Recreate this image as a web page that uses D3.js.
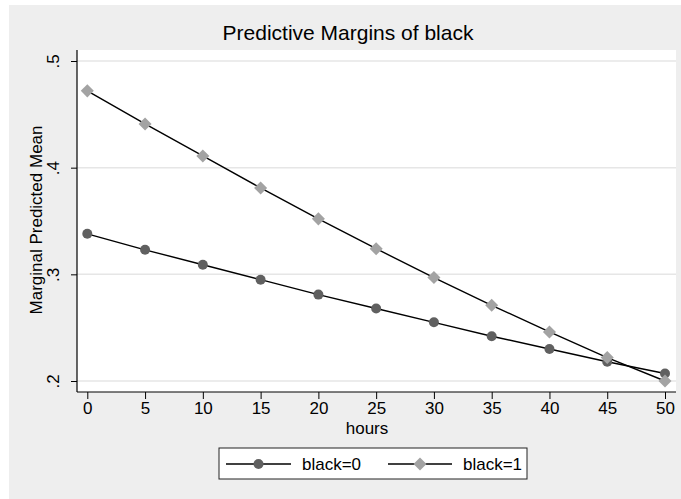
<!DOCTYPE html>
<html>
<head>
<meta charset="utf-8">
<script src="https://cdn.jsdelivr.net/npm/d3@7/dist/d3.min.js"></script>
<style>
  html, body { margin: 0; padding: 0; background: #ffffff; }
  svg { display: block; font-family: "Liberation Sans", Arial, sans-serif; }
</style>
</head>
<body>
<svg id="chart" width="681" height="499"></svg>
<script>
const hours = [0, 5, 10, 15, 20, 25, 30, 35, 40, 45, 50];
const black0 = [0.338, 0.323, 0.309, 0.295, 0.281, 0.268, 0.255, 0.242, 0.230, 0.218, 0.207];
const black1 = [0.472, 0.441, 0.411, 0.381, 0.352, 0.324, 0.297, 0.271, 0.246, 0.222, 0.200];
const yTicks = [0.2, 0.3, 0.4, 0.5];
const yTickLabels = [".2", ".3", ".4", ".5"];
const seriesNames = ["black=0", "black=1"];
const titleText = "Predictive Margins of black";
const xTitle = "hours";
const yTitle = "Marginal Predicted Mean";

const svg = d3.select("#chart");
const W = 681, H = 499;
const FS = 17;

// outer graph region
svg.append("rect").attr("x", 9).attr("y", 5).attr("width", W - 9).attr("height", H - 5)
  .attr("fill", "#eeeeee");

const plot = { left: 77, right: 676, top: 50, bottom: 392 };
svg.append("rect").attr("x", plot.left).attr("y", plot.top)
  .attr("width", plot.right - plot.left).attr("height", plot.bottom - plot.top)
  .attr("fill", "#ffffff");

const x = d3.scaleLinear().domain([0, 50]).range([87.3, 665]);
const y = d3.scaleLinear().domain([0.2, 0.5]).range([381, 61]);

// gridlines
svg.append("g").selectAll("line").data(yTicks).join("line")
  .attr("x1", plot.left).attr("x2", plot.right)
  .attr("y1", d => y(d)).attr("y2", d => y(d))
  .attr("stroke", "#e6e6e6").attr("stroke-width", 1.5);

// y axis
const yAxis = d3.axisLeft(y).tickValues(yTicks)
  .tickFormat((d, i) => yTickLabels[i]).tickSize(6).tickSizeOuter(0);
const gy = svg.append("g").attr("transform", `translate(${plot.left},0)`).call(yAxis);
gy.select(".domain").remove();
gy.selectAll(".tick line").attr("stroke", "#000").attr("stroke-width", 1);
gy.selectAll(".tick text")
  .attr("x", 0).attr("y", 0).attr("dy", 0)
  .attr("transform", "translate(-18,0) rotate(-90)")
  .attr("text-anchor", "middle")
  .attr("font-size", FS).attr("fill", "#000")
  .attr("font-family", "Liberation Sans, Arial, sans-serif");
svg.append("line").attr("x1", plot.left).attr("x2", plot.left)
  .attr("y1", plot.top).attr("y2", plot.bottom).attr("stroke", "#000").attr("stroke-width", 1.2);

// x axis
const xAxis = d3.axisBottom(x).tickValues(hours).tickFormat(d3.format("d"))
  .tickSize(7).tickSizeOuter(0);
const gx = svg.append("g").attr("transform", `translate(0,${plot.bottom})`).call(xAxis);
gx.select(".domain").remove();
gx.selectAll(".tick line").attr("stroke", "#000").attr("stroke-width", 1);
gx.selectAll(".tick text").attr("y", 22).attr("dy", 0)
  .attr("font-size", FS).attr("fill", "#000")
  .attr("font-family", "Liberation Sans, Arial, sans-serif");
svg.append("line").attr("x1", plot.left).attr("x2", plot.right)
  .attr("y1", plot.bottom).attr("y2", plot.bottom).attr("stroke", "#000").attr("stroke-width", 1.2);

// lines
const line = d3.line().x((d, i) => x(hours[i])).y(d => y(d));
[black0, black1].forEach(s => {
  svg.append("path").datum(s).attr("d", line)
    .attr("fill", "none").attr("stroke", "#000").attr("stroke-width", 1.4);
});

const circleColor = "#606060", diamondColor = "#a3a3a3";
const diamond = d3.symbol().type(d3.symbolSquare).size(85);

svg.append("g").selectAll("circle").data(black0).join("circle")
  .attr("cx", (d, i) => x(hours[i])).attr("cy", d => y(d)).attr("r", 5)
  .attr("fill", circleColor);
svg.append("g").selectAll("path").data(black1).join("path")
  .attr("d", diamond)
  .attr("transform", (d, i) => `translate(${x(hours[i])},${y(d)}) rotate(45)`)
  .attr("fill", diamondColor);

// titles
svg.append("text").attr("x", 348).attr("y", 40).attr("text-anchor", "middle")
  .attr("font-size", 21).attr("fill", "#000").text(titleText);
svg.append("text").attr("x", 367).attr("y", 434).attr("text-anchor", "middle")
  .attr("font-size", FS).attr("fill", "#000").text(xTitle);
svg.append("text").attr("transform", "translate(42,220) rotate(-90)").attr("text-anchor", "middle")
  .attr("font-size", FS).attr("fill", "#000").text(yTitle);

// legend
const lg = svg.append("g");
lg.append("rect").attr("x", 219).attr("y", 448).attr("width", 308).attr("height", 31)
  .attr("fill", "#fff").attr("stroke", "#222").attr("stroke-width", 1);
const legendItems = [
  { name: seriesNames[0], x0: 226, x1: 291, tx: 302, type: "circle" },
  { name: seriesNames[1], x0: 388, x1: 452, tx: 463, type: "diamond" }
];
const ly = 464;
legendItems.forEach(it => {
  lg.append("line").attr("x1", it.x0).attr("x2", it.x1).attr("y1", ly).attr("y2", ly)
    .attr("stroke", "#000").attr("stroke-width", 1.4);
  const cx = (it.x0 + it.x1) / 2;
  if (it.type === "circle") {
    lg.append("circle").attr("cx", cx).attr("cy", ly).attr("r", 5).attr("fill", circleColor);
  } else {
    lg.append("path").attr("d", diamond).attr("transform", `translate(${cx},${ly}) rotate(45)`)
      .attr("fill", diamondColor);
  }
  lg.append("text").attr("x", it.tx).attr("y", ly + 6).attr("font-size", FS)
    .attr("fill", "#000").text(it.name);
});
</script>
</body>
</html>
